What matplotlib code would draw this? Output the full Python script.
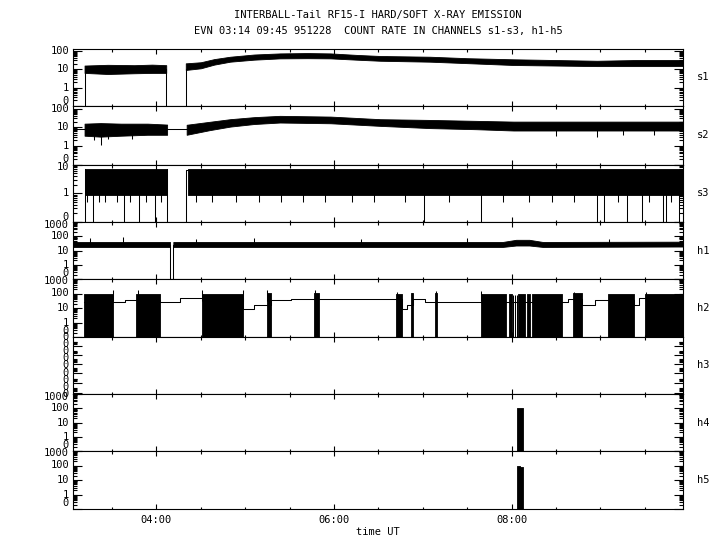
import matplotlib
matplotlib.use('Agg')
import numpy as np
import matplotlib.pyplot as plt
import matplotlib.transforms as mtransforms
from matplotlib.ticker import FixedLocator

plt.rcParams['font.family'] = ['DejaVu Sans Mono', 'DejaVu Sans']
plt.rcParams['font.size'] = 7.5

# time in hours UT, counts as log10 (the "0" level is drawn at -1)
T0, T1 = 3.06, 9.93

# s1: noisy band, two pieces with a data gap
s1_t1 = [3.19, 3.45, 3.75, 3.95, 4.11]
s1_lo1 = [0.80, 0.74, 0.78, 0.80, 0.80]
s1_hi1 = [1.20, 1.24, 1.22, 1.25, 1.22]
s1_t2 = [4.33, 4.5, 4.65, 4.83, 5.1, 5.39, 5.7, 5.96, 6.25, 6.52, 7.08, 7.5, 8.02, 8.5, 8.96, 9.4, 9.93]
s1_lo2 = [0.96, 1.05, 1.25, 1.41, 1.52, 1.59, 1.60, 1.59, 1.52, 1.46, 1.41, 1.33, 1.23, 1.20, 1.17, 1.17, 1.17]
s1_hi2 = [1.32, 1.38, 1.55, 1.68, 1.80, 1.86, 1.88, 1.86, 1.78, 1.72, 1.68, 1.60, 1.54, 1.50, 1.46, 1.50, 1.50]
s1_start = 3.19
s1_gap = (4.11, 4.33)
s1_level = 1.0

# s2
s2_quiet_level = 0.9
s2_t1 = [3.19, 3.37, 3.6, 3.9, 4.12]
s2_lo1 = [0.55, 0.50, 0.55, 0.60, 0.60]
s2_hi1 = [1.20, 1.23, 1.20, 1.20, 1.15]
s2_t2 = [4.34, 4.6, 4.83, 5.1, 5.39, 5.96, 6.52, 7.08, 7.6, 8.02, 8.96, 9.93]
s2_lo2 = [0.60, 0.85, 1.04, 1.18, 1.26, 1.22, 1.08, 0.96, 0.90, 0.83, 0.83, 0.83]
s2_hi2 = [1.14, 1.30, 1.44, 1.55, 1.62, 1.58, 1.44, 1.40, 1.35, 1.31, 1.31, 1.31]
s2_spike_t = [3.30, 3.37, 3.45, 3.72, 8.50, 8.96, 9.25, 9.60]
s2_spike_v = [0.30, 0.05, 0.35, 0.40, 0.55, 0.50, 0.60, 0.60]

# s3
s3_pieces = [(3.19, 4.116), (4.36, 9.93)]
s3_lo, s3_hi = -0.05, 0.85
s3_zero_t = [3.28, 3.64, 3.80, 3.98, 7.01, 7.65, 8.96, 9.04, 9.30, 9.47, 9.70, 9.74, 9.89]
s3_dip_t = [3.22, 3.35, 3.42, 3.55, 3.70, 3.88, 4.05, 4.45, 4.62, 4.90, 5.15, 5.40, 5.65,
            5.90, 6.20, 6.45, 6.80, 7.30, 7.90, 8.20, 8.45, 8.70, 9.20, 9.55, 9.80]
s3_dip_v = -0.3
s3_restart = (4.33, 4.36, 0.81)

# h1
h1_t = [3.06, 4.15, 4.19, 7.9, 8.05, 8.2, 8.35, 9.93]
h1_lo = [1.25, 1.25, 1.25, 1.25, 1.35, 1.35, 1.25, 1.28]
h1_hi = [1.60, 1.60, 1.60, 1.60, 1.75, 1.75, 1.60, 1.62]
h1_gap = (4.15, 4.19)
h1_spike_t = [3.25, 3.62, 4.45, 5.1, 6.3, 7.5, 9.1]
h1_spike_v = [1.85, 1.97, 1.80, 1.85, 1.80, 1.85, 1.80]

# h2: bursts plus a step level between them
h2_burst_start = [3.187, 3.77, 4.51, 5.24, 5.775, 6.70, 6.87, 7.14, 7.65, 7.97, 8.075, 8.17, 8.225, 8.69, 9.08, 9.505]
h2_burst_end = [3.514, 4.04, 4.97, 5.29, 5.835, 6.76, 6.89, 7.165, 7.94, 8.005, 8.15, 8.21, 8.57, 8.79, 9.38, 9.93]
h2_burst_top = [1.94, 1.94, 1.94, 2.0, 2.0, 1.97, 2.0, 2.0, 1.94, 1.97, 1.97, 1.97, 1.97, 2.0, 1.97, 1.97]
h2_step_t = [3.187, 3.65, 4.04, 4.265, 4.97, 5.10, 5.29, 5.52, 6.76, 6.82, 6.89, 7.02, 8.57, 8.63, 8.79, 8.94, 9.38, 9.44, 9.93]
h2_step_v = [1.39, 1.55, 1.39, 1.67, 0.93, 1.20, 1.55, 1.62, 0.91, 1.20, 1.60, 1.39, 1.43, 1.60, 1.20, 1.55, 1.20, 1.67, 1.67]
h2_spike_t = [3.514, 3.79, 4.51, 4.97, 5.25, 5.79, 6.71, 6.88, 7.15, 7.66, 8.70, 9.51]
h2_spike_v = [2.24, 2.26, 2.24, 2.24, 2.24, 2.26, 2.10, 2.05, 2.15, 2.20, 2.10, 2.12]
h2_lines_t = [8.02, 8.04, 8.06]

# h4, h5
h4_start = [8.06]
h4_end = [8.13]
h4_top = [2.0]
h5_start = [8.06, 8.095]
h5_end = [8.09, 8.13]
h5_top = [1.97, 1.90]
h5_between = 0.8

names = ['s1', 's2', 's3', 'h1', 'h2', 'h3', 'h4', 'h5']
ylims = [(-1, 2.1), (-1, 2.15), (-1, 1.0), (-1, 3.0), (-1, 3.0), (0, 1), (-1, 3.0), (-1, 3.0)]
dec_labels = ['0', '1', '10', '100', '1000']
h3_label_pos = [0.0, 0.125, 0.25, 0.375, 0.5, 0.625, 0.75, 0.875, 1.0]
h3_major = [0.02, 0.19, 0.37, 0.53, 0.68, 0.84]

bounds = [49, 106, 164.5, 222, 279, 337, 394, 451, 509]

fig = plt.figure(figsize=(7.2, 5.5), dpi=100)
W, H = 720.0, 550.0
axes = []
for i in range(8):
    top, bot = bounds[i], bounds[i + 1]
    ax = fig.add_axes([73 / W, 1 - bot / H, 610 / W, (bot - top) / H])
    ax.set_xlim(T0, T1)
    ax.set_ylim(*ylims[i])
    for sp in ax.spines.values():
        sp.set_linewidth(0.8)
    axes.append(ax)

K = dict(color='k', lw=0.75)
F = dict(color='k', lw=0.6)

# s1
ax = axes[0]
ax.plot([s1_start, s1_start], [-1, s1_level], **K)
ax.fill_between(s1_t1, s1_lo1, s1_hi1, **F)
ax.plot([s1_gap[0], s1_gap[0]], [s1_level, -1], **K)
ax.plot([s1_gap[1], s1_gap[1]], [-1, s1_level], **K)
ax.fill_between(s1_t2, s1_lo2, s1_hi2, **F)

# s2
ax = axes[1]
ax.plot([T0, s2_t1[0]], [s2_quiet_level] * 2, **K)
ax.fill_between(s2_t1, s2_lo1, s2_hi1, **F)
ax.plot([s2_t1[-1], s2_t2[0]], [s2_quiet_level] * 2, **K)
ax.fill_between(s2_t2, s2_lo2, s2_hi2, **F)
ax.vlines(s2_spike_t, s2_spike_v, 0.9, **K)

# s3
ax = axes[2]
for a, b in s3_pieces:
    ax.fill_between([a, b], [s3_lo] * 2, [s3_hi] * 2, **F)
ax.plot([s3_pieces[0][0]] * 2, [-1, s3_hi], **K)
ax.plot([s3_pieces[0][1]] * 2, [s3_hi, -1], **K)
ax.plot([s3_restart[0], s3_restart[0], s3_restart[1]], [-1, s3_restart[2], s3_restart[2]], **K)
ax.vlines(s3_zero_t, -1, 0.5, **K)
ax.vlines(s3_dip_t, s3_dip_v, 0.5, **K)

# h1
ax = axes[3]
g0 = h1_t.index(h1_gap[0])
ax.fill_between(h1_t[:g0 + 1], h1_lo[:g0 + 1], h1_hi[:g0 + 1], **F)
ax.fill_between(h1_t[g0 + 1:], h1_lo[g0 + 1:], h1_hi[g0 + 1:], **F)
ax.plot([h1_gap[0], h1_gap[0], h1_gap[1], h1_gap[1]], [1.4, -1, -1, 1.4], **K)
ax.vlines(h1_spike_t, 1.4, h1_spike_v, **K)

# h2
ax = axes[4]
ax.step(h2_step_t, h2_step_v, where='post', **K)
for a, b, v in zip(h2_burst_start, h2_burst_end, h2_burst_top):
    ax.fill_between([a, b], [-1, -1], [v, v], **F)
ax.vlines(h2_spike_t, 1.5, h2_spike_v, **K)
ax.vlines(h2_lines_t, -1, 1.9, **K)

# h4, h5
ax = axes[6]
for a, b, v in zip(h4_start, h4_end, h4_top):
    ax.fill_between([a, b], [-1, -1], [v, v], **F)
ax = axes[7]
for a, b, v in zip(h5_start, h5_end, h5_top):
    ax.fill_between([a, b], [-1, -1], [v, v], **F)
ax.fill_between([h5_end[0], h5_start[1]], [h5_between] * 2, [1.9, 1.9], **F)

# ticks and labels
for i, ax in enumerate(axes):
    lo, hi = ylims[i]
    ax.xaxis.set_major_locator(FixedLocator([4, 6, 8]))
    ax.xaxis.set_minor_locator(FixedLocator(np.arange(3.5, 10.0, 0.5)))
    ax.tick_params(which='both', direction='in', top=True, bottom=True, left=True,
                   right=True, labelleft=False, labelbottom=(i == 7), width=0.8)
    ax.tick_params(axis='x', which='major', length=3.4, pad=4)
    ax.tick_params(axis='x', which='minor', length=1.8)
    ax.tick_params(axis='y', which='major', length=6.5)
    ax.tick_params(axis='y', which='minor', length=3.0)
    trans = mtransforms.blended_transform_factory(ax.transAxes, ax.transData)
    if names[i] == 'h3':
        ax.yaxis.set_major_locator(FixedLocator(h3_major))
        ax.yaxis.set_minor_locator(FixedLocator([m + d for m in h3_major for d in (0.035, 0.05, 0.065, 0.08)]))
        for v in h3_label_pos:
            tr = mtransforms.offset_copy(trans, fig=fig, x=-4, y=0, units='dots')
            ax.text(0, v, '0', transform=tr, ha='right', va='center')
    else:
        decs = list(range(int(lo), int(np.floor(hi)) + 1))
        ax.yaxis.set_major_locator(FixedLocator(decs))
        ax.yaxis.set_minor_locator(FixedLocator([d + np.log10(m) for d in decs for m in range(2, 10)
                                                 if d + np.log10(m) < hi]))
        for d in decs:
            dy = 5.5 if d == lo else (-2.5 if d >= hi - 0.01 else 0)
            tr = mtransforms.offset_copy(trans, fig=fig, x=-4, y=dy, units='dots')
            ax.text(0, d, dec_labels[d + 1], transform=tr, ha='right', va='center')
    ax.text(1.023, 0.5, names[i], transform=ax.transAxes, ha='left', va='center')

axes[7].set_xticks([4, 6, 8], ['04:00', '06:00', '08:00'])

fig.text(0.525, 1 - 15 / H, 'INTERBALL-Tail RF15-I HARD/SOFT X-RAY EMISSION', ha='center', va='center')
fig.text(0.525, 1 - 31 / H, 'EVN 03:14 09:45 951228  COUNT RATE IN CHANNELS s1-s3, h1-h5', ha='center', va='center')
fig.text(0.525, 1 - 532 / H, 'time UT', ha='center', va='center')

fig.savefig('out.png', dpi=100)
